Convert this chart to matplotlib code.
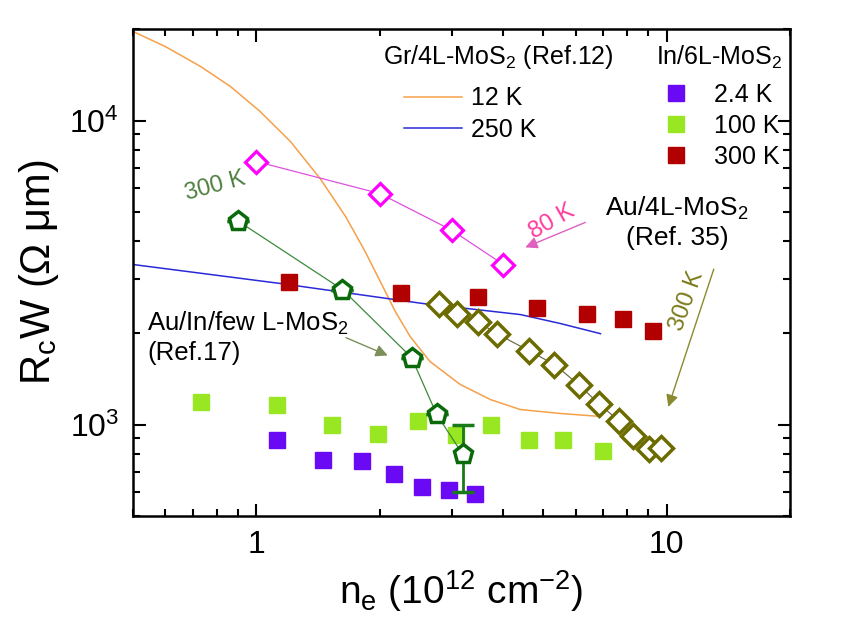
import matplotlib
matplotlib.use("Agg")
import matplotlib.pyplot as plt
from matplotlib.ticker import LogLocator, FixedFormatter, FixedLocator, NullFormatter

plt.rcParams['font.family'] = ['Liberation Sans', 'DejaVu Sans']
plt.rcParams['mathtext.fontset'] = 'custom'
plt.rcParams['mathtext.rm'] = 'Liberation Sans'
plt.rcParams['mathtext.it'] = 'Liberation Sans:italic'

# Gr/4L-MoS2 (Ref.12) curves
gr12_x = [0.5, 0.6, 0.73, 0.864, 1.02, 1.21, 1.43, 1.65, 1.84, 2.005, 2.18, 2.37, 2.65,
          3.14, 3.72, 4.4, 5.52, 6.9]
gr12_y = [19630, 17500, 15070, 12940, 10720, 8530, 6440, 4830, 3710, 2950, 2355, 1947, 1611,
          1354, 1208, 1120, 1087, 1063]
gr250_x = [0.5, 1.144, 2.55, 4.4, 5.5, 6.9]
gr250_y = [3360, 2910, 2500, 2300, 2150, 1990]

# In/6L-MoS2 squares
in24_x = [1.12, 1.45, 1.81, 2.16, 2.54, 2.94, 3.42]
in24_y = [886, 767, 756, 685, 621, 611, 593]
in100_x = [0.734, 1.12, 1.53, 1.98, 2.48, 3.06, 3.74, 4.61, 5.6, 6.98]
in100_y = [1190, 1155, 1000, 934, 1030, 927, 1000, 886, 886, 821]
in300_x = [1.2, 2.25, 3.46, 4.82, 6.38, 7.85, 9.25]
in300_y = [2953, 2698, 2637, 2426, 2318, 2232, 2038]

# Au/4L-MoS2 (Ref. 35)
au80_x = [1.0, 2.0, 3.0, 4.0]
au80_y = [7330, 5750, 4350, 3360]
au300_x = [2.78, 3.09, 3.46, 3.85, 4.61, 5.33, 6.10, 6.83, 7.64, 8.26, 9.04, 9.72]
au300_y = [2500, 2318, 2182, 1992, 1751, 1575, 1354, 1172, 1030, 920, 828, 835]

# Au/In/few L-MoS2 (Ref.17)
auin_x = [0.904, 1.62, 2.39, 2.75, 3.18]
auin_y = [4660, 2780, 1660, 1080, 800]
auin_err = [0, 0, 0, 0, 200]

fig = plt.figure(figsize=(8.56, 6.28), dpi=100)
ax = fig.add_axes([0.1554, 0.1783, 0.7675, 0.7755])

l12, = ax.plot(gr12_x, gr12_y, color='#f5a04a', lw=1.1, label='12 K')
l250, = ax.plot(gr250_x, gr250_y, color='#2a2ad8', lw=1.1, label='250 K')

ax.plot(au80_x, au80_y, color='#e050e0', lw=0.9, marker='D', ms=11.5,
        mfc='white', mec='#ff00ff', mew=2.3)

s300, = ax.plot(in300_x, in300_y, 's', color='#b20000', ms=11.5, label='300 K')
s100, = ax.plot(in100_x, in100_y, 's', color='#99e622', ms=11.5, label='100 K')
s24, = ax.plot(in24_x, in24_y, 's', color='#6a0af5', ms=11.5, label='2.4 K')

ax.plot(au300_x, au300_y, color='#707050', lw=0.9, marker='D', ms=12,
        mfc='white', mec='#6b6b00', mew=2.5)

ax.errorbar(auin_x, auin_y, yerr=auin_err, color='#3c8a3c', lw=0.9, marker='p',
            ms=14, mfc='white', mec='#0a6a0a', mew=2.5, ecolor='#1a7a1a',
            elinewidth=2, capsize=8, capthick=1.5)

ax.set_xscale('log')
ax.set_yscale('log')
ax.set_xlim(0.5, 20)
ax.set_ylim(500, 20000)

ax.xaxis.set_major_locator(FixedLocator([1, 10]))
ax.xaxis.set_major_formatter(FixedFormatter(['1', '10']))
ax.yaxis.set_major_locator(FixedLocator([1000, 10000]))
ax.yaxis.set_major_formatter(FixedFormatter(['$\\mathregular{10^3}$', '$\\mathregular{10^4}$']))
ax.xaxis.set_minor_locator(LogLocator(base=10, subs=range(2, 10)))
ax.yaxis.set_minor_locator(LogLocator(base=10, subs=range(2, 10)))
ax.xaxis.set_minor_formatter(NullFormatter())
ax.yaxis.set_minor_formatter(NullFormatter())
ax.tick_params(which='both', direction='in', top=True, right=True, width=1.5)
ax.tick_params(which='major', length=9, labelsize=23, pad=10)
ax.tick_params(which='minor', length=5)
for sp in ax.spines.values():
    sp.set_linewidth(1.8)

ax.set_xlabel('$\\mathregular{n_e\\ (10^{12}\\ cm^{-2})}$', fontsize=28, labelpad=6)
ax.set_ylabel('$\\mathregular{R_cW\\ (\\Omega\\ \\mu m)}$', fontsize=30, labelpad=6)

# legends: titles as plain text, entries as legends
ax.text(0.3805, 0.9425, 'Gr/4L-MoS$\\mathregular{_2}$ (Ref.12)', transform=ax.transAxes,
        fontsize=18, ha='left', va='center')
leg1 = ax.legend(handles=[l12, l250], loc='upper left', bbox_to_anchor=(0.413, 0.882),
                 frameon=False, fontsize=18, handlelength=2.3, handletextpad=0.35,
                 labelspacing=0.3, borderaxespad=0, borderpad=0)
ax.add_artist(leg1)
ax.text(0.989, 0.9425, 'In/6L-MoS$\\mathregular{_2}$', transform=ax.transAxes,
        fontsize=18, ha='right', va='center')
ax.legend(handles=[s24, s100, s300], loc='upper left', bbox_to_anchor=(0.808, 0.889),
          frameon=False, fontsize=18, handlelength=1.0, handletextpad=1.0,
          labelspacing=0.28, borderaxespad=0, borderpad=0)

ax.text(0.794, 6070, '300 K', color='#4f7f3f', fontsize=17, rotation=15,
        ha='center', va='center')
ax.text(5.27, 4660, '80 K', color='#ff3c9c', fontsize=17, rotation=30,
        ha='center', va='center')
ax.annotate('', xy=(4.46, 3795), xytext=(6.43, 4660),
            arrowprops=dict(arrowstyle='-|>', color='#e060c0', lw=1.0, mutation_scale=18))
ax.text(10.6, 4620, 'Au/4L-MoS$\\mathregular{_2}$\n(Ref. 35)', fontsize=19,
        ha='center', va='center', multialignment='center')
ax.text(11.2, 2540, '300 K', color='#7a7a1a', fontsize=17, rotation=70,
        ha='center', va='center')
ax.annotate('', xy=(10.05, 1120), xytext=(13.1, 3310),
            arrowprops=dict(arrowstyle='-|>', color='#8a8a30', lw=1.0, mutation_scale=18))
ax.text(0.542, 1932, 'Au/In/few L-MoS$\\mathregular{_2}$\n(Ref.17)', fontsize=18.5,
        ha='left', va='center')
ax.annotate('', xy=(2.12, 1673), xytext=(1.63, 1946),
            arrowprops=dict(arrowstyle='-|>', color='#7a8f5a', lw=1.0, mutation_scale=18))

fig.savefig('out.png', dpi=100)
